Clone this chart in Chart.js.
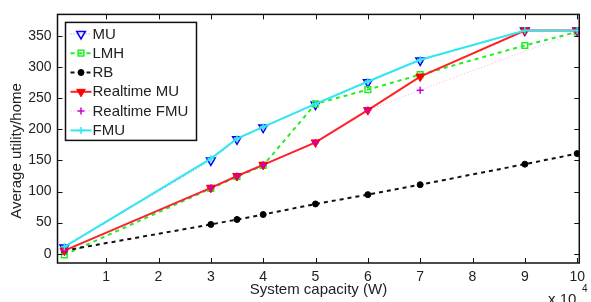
<!DOCTYPE html>
<html>
<head>
<meta charset="utf-8">
<script src="https://cdn.jsdelivr.net/npm/chart.js@4.4.0/dist/chart.umd.min.js"></script>
<style>
  html, body { margin: 0; padding: 0; background: #fff; overflow: hidden; }
  #wrap { width: 591px; height: 302px; position: relative; }
</style>
</head>
<body>
<div id="wrap"><canvas id="grafico" width="591" height="302"></canvas></div>
<script>
// dados (capacidade em W)
const capacidade = [2000, 30000, 35000, 40000, 50000, 60000, 70000, 90000, 100000];
const mu          = [10, 150, 184, 203, 240, 276, 311, 359, 359];
const lmh         = [-2, 105, 124, 142, 241, 264, 288, 335, 357];
const rb          = [5, 47, 55, 63, 80, 95, 111, 144, 161];
const realtimeMu  = [5, 106, 125, 143, 179, 231, 285, 359, 359];
const realtimeFmu = [5, 106, 125, 143, 179, 231, 263, null, 357];
const fmu         = [11, 153, 185, 204, 241, 277, 312, 359, 359];

const nomes = ['MU', 'LMH', 'RB', 'Realtime MU', 'Realtime FMU', 'FMU'];
const xTicks = [10000, 20000, 30000, 40000, 50000, 60000, 70000, 80000, 90000, 100000];
const yTicks = [0, 50, 100, 150, 200, 250, 300, 350];

const fonte = '"Liberation Sans", Arial, Helvetica, sans-serif';
const corTexto = '#222';

function pontos(valores) {
    return capacidade.map((c, i) => ({ x: c, y: valores[i] }));
}

const datasets = [
    {
        label: nomes[0], data: pontos(mu), order: 6,
        borderColor: 'rgba(0,0,255,0.45)', borderWidth: 1, borderDash: [1, 2],
        pointStyle: 'triangle', pointRotation: 180, pointRadius: 5,
        pointBorderColor: '#0000ff', pointBackgroundColor: 'rgba(0,0,0,0)', pointBorderWidth: 1.5
    },
    {
        label: nomes[1], data: pontos(lmh), order: 5,
        borderColor: '#22ee22', borderWidth: 2, borderDash: [4, 4],
        pointStyle: 'rect', pointRadius: 4, pointRotation: 0,
        pointBorderColor: '#22ee22', pointBackgroundColor: 'rgba(0,0,0,0)', pointBorderWidth: 1.5
    },
    {
        label: nomes[2], data: pontos(rb), order: 4,
        borderColor: '#111', borderWidth: 2, borderDash: [4, 4],
        pointStyle: 'circle', pointRadius: 3, pointRotation: 0,
        pointBorderColor: '#000', pointBackgroundColor: '#000', pointBorderWidth: 1
    },
    {
        label: nomes[3], data: pontos(realtimeMu), order: 3,
        borderColor: '#ff2222', borderWidth: 2, borderDash: [],
        pointStyle: 'triangle', pointRotation: 180, pointRadius: 5,
        pointBorderColor: '#ff0000', pointBackgroundColor: '#ff0000', pointBorderWidth: 1
    },
    {
        label: nomes[4], data: pontos(realtimeFmu), order: 2, spanGaps: true,
        borderColor: 'rgba(255,0,255,0.35)', borderWidth: 1, borderDash: [1, 2],
        pointStyle: 'cross', pointRadius: 3.5, pointRotation: 0,
        pointBorderColor: '#cc00cc', pointBackgroundColor: '#cc00cc', pointBorderWidth: 1.5
    },
    {
        label: nomes[5], data: pontos(fmu), order: 1,
        borderColor: '#33e6f0', borderWidth: 2, borderDash: [],
        pointStyle: 'cross', pointRadius: 3.5, pointRotation: 0,
        pointBorderColor: '#33e6f0', pointBackgroundColor: '#33e6f0', pointBorderWidth: 1.5
    }
];

// moldura estilo MATLAB, ticks para dentro, legenda em caixa, título do eixo y e "x 10^4"
const molduraPlugin = {
    id: 'moldura',
    afterDraw(chart) {
        const ctx = chart.ctx;
        const a = chart.chartArea;
        const sx = chart.scales.x, sy = chart.scales.y;
        ctx.save();
        ctx.strokeStyle = '#111';
        ctx.lineWidth = 1.5;
        ctx.setLineDash([]);
        ctx.strokeRect(a.left, a.top, a.right - a.left, a.bottom - a.top);

        ctx.lineWidth = 1;
        ctx.beginPath();
        sx.ticks.forEach(t => {
            const px = Math.round(sx.getPixelForValue(t.value)) + 0.5;
            ctx.moveTo(px, a.bottom); ctx.lineTo(px, a.bottom - 5);
            ctx.moveTo(px, a.top); ctx.lineTo(px, a.top + 5);
        });
        sy.ticks.forEach(t => {
            const py = Math.round(sy.getPixelForValue(t.value)) + 0.5;
            ctx.moveTo(a.left, py); ctx.lineTo(a.left + 5, py);
            ctx.moveTo(a.right, py); ctx.lineTo(a.right - 5, py);
        });
        ctx.stroke();

        // legenda
        const lx = a.left + 8, ly = a.top + 8, lw = 131, lh = 118;
        ctx.fillStyle = '#fff';
        ctx.fillRect(lx, ly, lw, lh);
        ctx.strokeStyle = '#111';
        ctx.lineWidth = 1.5;
        ctx.strokeRect(lx, ly, lw, lh);

        const desenha = Chart.helpers && Chart.helpers.drawPoint;
        chart.data.datasets.forEach((ds, i) => {
            const yy = ly + 11.5 + i * 19.3;
            ctx.save();
            ctx.strokeStyle = ds.borderColor;
            ctx.lineWidth = ds.borderWidth;
            ctx.setLineDash(ds.borderDash || []);
            ctx.beginPath();
            ctx.moveTo(lx + 5, yy); ctx.lineTo(lx + 26, yy);
            ctx.stroke();
            ctx.setLineDash([]);
            ctx.strokeStyle = ds.pointBorderColor;
            ctx.fillStyle = ds.pointBackgroundColor;
            ctx.lineWidth = ds.pointBorderWidth;
            if (desenha) {
                desenha(ctx, {
                    pointStyle: ds.pointStyle, rotation: ds.pointRotation,
                    radius: ds.pointRadius, borderWidth: ds.pointBorderWidth
                }, lx + 15.5, yy);
            }
            ctx.restore();
            ctx.fillStyle = corTexto;
            ctx.font = '15px ' + fonte;
            ctx.textBaseline = 'middle';
            ctx.textAlign = 'left';
            ctx.fillText(ds.label, lx + 27, yy + 0.5);
        });

        // título do eixo y (um pouco abaixo do centro, como no original)
        ctx.save();
        ctx.translate(17, 151);
        ctx.rotate(-Math.PI / 2);
        ctx.fillStyle = corTexto;
        ctx.font = '15px ' + fonte;
        ctx.textAlign = 'center';
        ctx.textBaseline = 'middle';
        ctx.fillText('Average utility/home', 0, 0);
        ctx.restore();

        // multiplicador do eixo x
        ctx.fillStyle = corTexto;
        ctx.font = '15px ' + fonte;
        ctx.textBaseline = 'alphabetic';
        ctx.textAlign = 'left';
        ctx.fillText('x 10', 548, 304);
        ctx.font = '10px ' + fonte;
        ctx.fillText('4', 582, 292);
        ctx.restore();
    }
};

new Chart(document.getElementById('grafico'), {
    type: 'line',
    data: { datasets: datasets },
    options: {
        responsive: false,
        animation: false,
        devicePixelRatio: 1,
        layout: { padding: { top: 10, right: 7, left: 0, bottom: 0 } },
        plugins: { legend: { display: false }, tooltip: { enabled: false } },
        elements: { line: { tension: 0 } },
        scales: {
            x: {
                type: 'linear',
                min: 700,
                max: 100400,
                afterBuildTicks: s => { s.ticks = xTicks.map(v => ({ value: v })); },
                afterFit: s => { s.height = 39; },
                grid: { display: false, drawTicks: false },
                border: { display: false },
                ticks: {
                    autoSkip: false, maxRotation: 0, padding: 6,
                    color: corTexto, font: { family: fonte, size: 14 },
                    callback: v => String(v / 10000)
                },
                title: {
                    display: true, text: 'System capacity (W)', color: corTexto,
                    font: { family: fonte, size: 15 }, padding: { top: 0, bottom: 3 }
                }
            },
            y: {
                type: 'linear',
                min: -15,
                max: 385,
                afterBuildTicks: s => { s.ticks = yTicks.map(v => ({ value: v })); },
                afterFit: s => { s.width = 57.5; },
                grid: { display: false, drawTicks: false },
                border: { display: false },
                ticks: {
                    padding: 6, color: corTexto, font: { family: fonte, size: 14 }
                },
                title: { display: false }
            }
        }
    },
    plugins: [molduraPlugin]
});
</script>
</body>
</html>
